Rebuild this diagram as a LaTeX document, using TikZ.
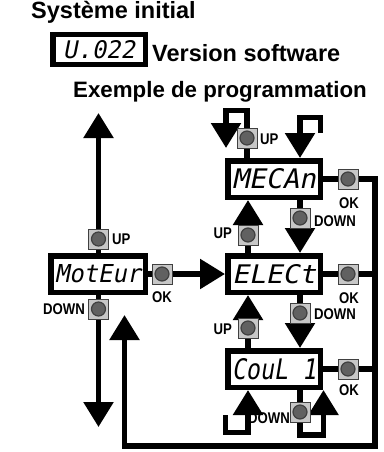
\documentclass[tikz,border=0pt]{standalone}
\usepackage{fontspec}
\usepackage{graphicx}
\setmainfont{Liberation Sans}
\newfontfamily\lcdfont[FakeSlant=0.2]{DejaVu Sans Mono}
\newfontfamily\keyfont[FakeStretch=0.85]{Liberation Sans}
\usetikzlibrary{arrows.meta}

% text of a segment display, squeezed to a given width and height
\newcommand{\lcd}[3]{\resizebox{#1}{#2}{\lcdfont #3}}

\begin{document}
\begin{tikzpicture}[x=1pt,y=-1pt,
  display/.style={draw, line width=5.5pt, fill=white, inner sep=0pt,
    minimum width=92.5pt, minimum height=36.5pt},
  wire/.style={line width=5.5pt, line join=miter},
  flow/.style={wire, -{Triangle[width=29pt,length=25pt]}},
  key/.style={draw=black!75, line width=1pt, fill=black!22, minimum size=20pt,
    inner sep=0pt, path picture={\draw[line width=1.2pt, fill=black!62]
      (path picture bounding box.center) circle (7pt);}},
  keylabel/.style={font=\keyfont\bfseries\fontsize{15.5}{15.5}\selectfont, inner sep=0pt},
  title/.style={font=\bfseries\fontsize{23.5}{23.5}\selectfont, inner sep=0pt, anchor=base west}]
\useasboundingbox (0,0) rectangle (383,452);

% headings
\node[title] (sys) at (31,19) {Système initial};
\node[display, minimum height=30pt] (ver) at (99,49.5) {\lcd{72pt}{18pt}{U.022}};
\node[title] (vertext) at (152,61) {Version software};
\node[title, font=\bfseries\fontsize{22.3}{22.3}\selectfont] (example) at (73,97) {Exemple de programmation};

% displays
\node[display] (mecan) at (274,179) {\lcd{84pt}{20pt}{MECAn}};
\node[display] (elect) at (274,274) {\lcd{84pt}{19pt}{ELECt}};
\node[display] (coul) at (274,369) {\lcd{84pt}{21pt}{CouL 1}};
\node[display, minimum width=94.5pt] (motor) at (98,274) {\lcd{86pt}{18pt}{MotEur}};

% helper coordinates
\coordinate (upcol) at (248,0);
\coordinate (dncol) at (300,0);
\coordinate (rail) at (375,0);
\coordinate (topend) at (98.5,113);
\coordinate (botend) at (98.5,427);
\coordinate (back1) at (124.5,446);
\coordinate (backtip) at (124.5,315);
\coordinate (tl1) at (247,110.5);
\coordinate (tl2) at (226,110.5);
\coordinate (tl3) at (226,148);
\coordinate (tr0) at (320.5,133);
\coordinate (tr1) at (320.5,117.5);
\coordinate (tr2) at (300,117.5);
\coordinate (bl0) at (225.5,415);
\coordinate (bl1) at (225.5,432.5);
\coordinate (bl2) at (248,432.5);
\coordinate (br1) at (300,435);
\coordinate (br2) at (323.5,435);

% main menu
\draw[flow] (motor.north -| topend) -- (topend);
\draw[flow] (motor.south -| botend) -- (botend);
\draw[flow] (motor.east) -- (elect.west);

% moving between the entries
\draw[flow] (elect.north -| upcol) -- (mecan.south -| upcol);
\draw[flow] (mecan.south -| dncol) -- (elect.north -| dncol);
\draw[flow] (coul.north -| upcol) -- (elect.south -| upcol);
\draw[flow] (elect.south -| dncol) -- (coul.north -| dncol);

% wrap-around at both ends of the list
\draw[flow] (mecan.north -| tl1) -- (tl1) -- (tl2) -- (tl3);
\draw[flow] (tr0) -- (tr1) -- (tr2) -- (mecan.north -| tr2);
\draw[flow] (bl0) -- (bl1) -- (bl2) -- (coul.south -| bl2);
\draw[flow] (coul.south -| br1) -- (br1) -- (br2) -- (coul.south -| br2);

% OK returns to the main menu
\draw[flow] (mecan.east) -- (mecan.east -| rail) -- (rail |- back1) -- (back1) -- (backtip);
\draw[wire] (elect.east) -- (elect.east -| rail);
\draw[wire] (coul.east) -- (coul.east -| rail);

% push buttons
\node[key] (kUpTop) at (247,138) {};
\node[key] (kOkM) at (348,179) {};
\node[key] (kDnM) at (300,218) {};
\node[key] (kUpE) at (248,235) {};
\node[key] (kOkE) at (348,274) {};
\node[key] (kDnE) at (300,313) {};
\node[key] (kUpC) at (248,328) {};
\node[key] (kOkC) at (348,369) {};
\node[key] (kDnC) at (300,412) {};
\node[key] (kUpN) at (98.5,239) {};
\node[key] (kOkN) at (162,274) {};
\node[key] (kDnN) at (98.5,309) {};

% button names
\node[keylabel, anchor=west] (lUpTop) at (260,139) {UP};
\node[keylabel] (lOkM) at (349,203) {OK};
\node[keylabel, anchor=west] (lDnM) at (314,221) {DOWN};
\node[keylabel, anchor=east] (lUpE) at (232,233) {UP};
\node[keylabel] (lOkE) at (349,298) {OK};
\node[keylabel, anchor=west] (lDnE) at (314,314) {DOWN};
\node[keylabel, anchor=east] (lUpC) at (232,329) {UP};
\node[keylabel] (lOkC) at (349,390) {OK};
\node[keylabel, anchor=east] (lDnC) at (290,418) {DOWN};
\node[keylabel, anchor=west] (lUpN) at (112,239) {UP};
\node[keylabel] (lOkN) at (162,297) {OK};
\node[keylabel, anchor=east] (lDnN) at (85,309) {DOWN};
\end{tikzpicture}
\end{document}
